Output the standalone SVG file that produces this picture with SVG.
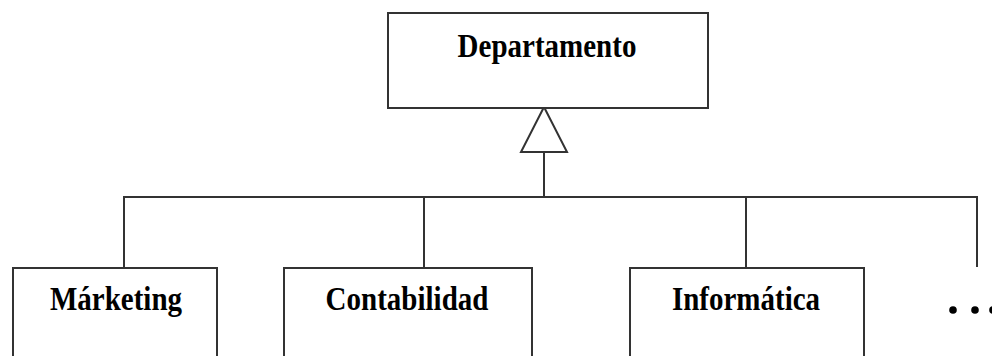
<svg xmlns="http://www.w3.org/2000/svg" width="992" height="356" viewBox="0 0 992 356">
<style>
.box{fill:#fff;stroke:#333;stroke-width:2}
.ln{fill:none;stroke:#333;stroke-width:2}
.lbl{font-family:"Liberation Serif","Times New Roman",serif;font-weight:bold;font-size:29px;fill:#000;text-anchor:middle}
</style>
<rect width="992" height="356" fill="#fff"/>
<g id="connectors">
<polyline class="ln" points="124,267 124,197 977,197 977,267"/>
<line class="ln" x1="424" y1="197" x2="424" y2="268"/>
<line class="ln" x1="746" y1="197" x2="746" y2="268"/>
<line class="ln" x1="544" y1="197" x2="544" y2="152"/>
<polygon class="box" points="544,107 521,152 567,152"/>
</g>
<g id="departamento">
<rect class="box" x="388" y="13" width="320" height="95"/>
<text class="lbl" transform="translate(547,57) scale(1,1.15)">Departamento</text>
</g>
<g id="marketing">
<rect class="box" x="13" y="268" width="204" height="100"/>
<text class="lbl" transform="translate(116,310) scale(1,1.15)">Márketing</text>
</g>
<g id="contabilidad">
<rect class="box" x="284" y="268" width="248" height="100"/>
<text class="lbl" transform="translate(407,310) scale(1,1.15)">Contabilidad</text>
</g>
<g id="informatica">
<rect class="box" x="630" y="268" width="234" height="100"/>
<text class="lbl" transform="translate(746,310) scale(1,1.15)">Informática</text>
</g>
<g id="more">
<circle cx="953" cy="310" r="3.8" fill="#000"/>
<circle cx="975" cy="310" r="3.8" fill="#000"/>
<circle cx="993" cy="310" r="3.8" fill="#000"/>
</g>
</svg>
